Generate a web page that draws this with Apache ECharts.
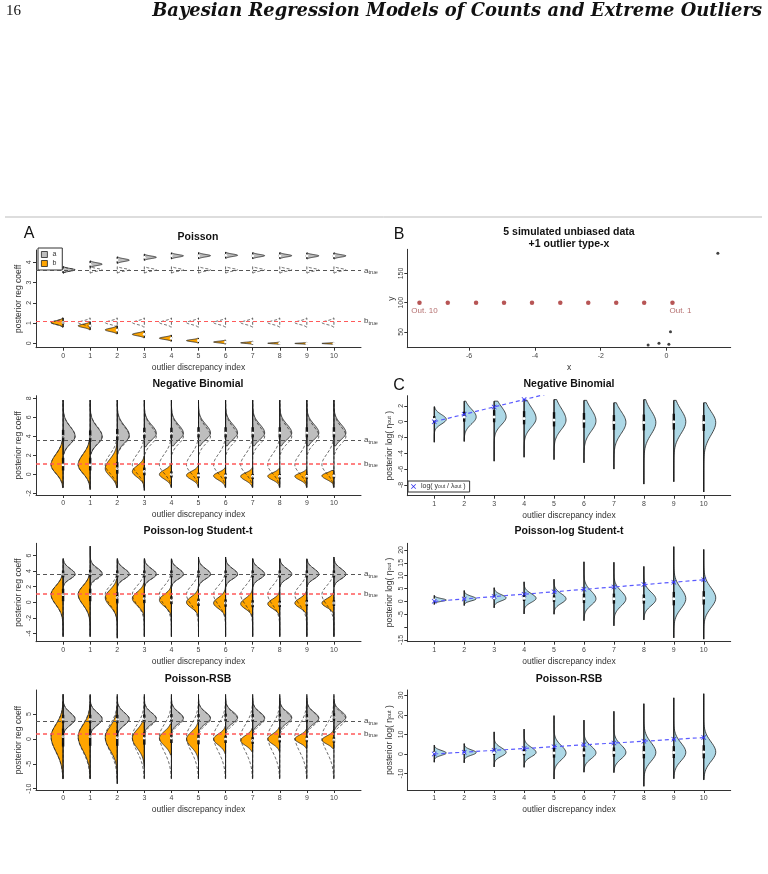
<!DOCTYPE html>
<html>
<head>
<meta charset="utf-8">
<title>Bayesian Regression Models of Counts and Extreme Outliers</title>
<script src="https://cdn.jsdelivr.net/npm/echarts@6/dist/echarts.min.js"></script>
<style>
  body { margin: 0; background: #fff; }
  #main { width: 768px; height: 874px; }
</style>
</head>
<body>
<div id="main"></div>
<script>
// outlier discrepancy index
var idxLeft = [0, 1, 2, 3, 4, 5, 6, 7, 8, 9, 10];
var idxRight = [1, 2, 3, 4, 5, 6, 7, 8, 9, 10];
var aTrue = 3.6, bTrue = 1.1;

// each row: [mode, sd below, sd above, min, max] of a posterior
var poisA = [[3.63,0.065,0.065,3.47,3.79],[3.91,0.065,0.065,3.75,4.07],[4.11,0.065,0.065,3.95,4.27],[4.25,0.06,0.06,4.10,4.40],
  [4.32,0.06,0.06,4.17,4.47],[4.33,0.06,0.06,4.18,4.48],[4.35,0.06,0.06,4.20,4.50],[4.33,0.06,0.06,4.18,4.48],
  [4.33,0.06,0.06,4.18,4.48],[4.32,0.06,0.06,4.17,4.47],[4.32,0.06,0.06,4.17,4.47]];
var poisB = [[1.02,0.09,0.09,0.80,1.25],[0.86,0.08,0.08,0.66,1.06],[0.66,0.08,0.08,0.46,0.86],[0.44,0.07,0.07,0.27,0.61],
  [0.25,0.06,0.06,0.10,0.40],[0.13,0.05,0.05,0.01,0.25],[0.06,0.04,0.04,-0.04,0.16],[0.02,0.03,0.03,-0.06,0.10],
  [0.00,0.025,0.025,-0.06,0.06],[-0.01,0.02,0.02,-0.06,0.04],[-0.01,0.02,0.02,-0.06,0.04]];

var nbA = [[4.0,0.8,1.0,2.1,7.8],[3.95,0.8,1.0,2.1,7.8],[4.1,0.8,1.0,2.4,7.8],[4.3,0.7,0.9,2.9,7.8],
  [4.3,0.7,0.9,3.0,7.8],[4.35,0.7,0.9,3.0,7.8],[4.35,0.7,0.9,3.0,7.8],[4.35,0.7,0.9,3.0,7.8],
  [4.35,0.7,0.9,3.0,7.8],[4.35,0.7,0.9,3.0,7.8],[4.35,0.7,0.9,3.0,7.8]];
var nbB = [[1.0,0.9,1.1,-1.4,4.1],[1.0,0.9,1.1,-1.6,4.1],[0.6,0.8,1.0,-1.4,3.5],[0.3,0.6,0.6,-1.7,1.9],
  [0.0,0.5,0.45,-1.3,1.1],[-0.1,0.45,0.4,-1.3,0.9],[-0.15,0.45,0.35,-1.3,0.7],[-0.2,0.45,0.35,-1.3,0.7],
  [-0.2,0.4,0.35,-1.3,0.6],[-0.2,0.4,0.3,-1.3,0.5],[-0.15,0.4,0.3,-1.3,0.4]];

var stA = [[3.6,0.6,0.7,2.0,5.6],[3.7,0.6,0.7,2.2,7.2],[3.6,0.6,0.7,2.0,5.6],[3.6,0.6,0.7,2.0,5.6],
  [3.6,0.6,0.7,2.0,5.5],[3.6,0.6,0.7,2.0,5.8],[3.6,0.6,0.7,2.0,5.8],[3.6,0.6,0.7,2.0,5.6],
  [3.6,0.6,0.7,2.0,5.6],[3.6,0.6,0.7,2.0,5.5],[3.6,0.6,0.7,2.0,5.8]];
var stB = [[1.0,1.3,1.1,-4.4,3.8],[1.0,1.3,1.1,-4.4,4.0],[0.6,1.1,1.0,-4.6,3.0],[0.5,0.9,0.8,-4.4,2.4],
  [0.3,0.8,0.7,-4.4,2.2],[0.0,0.7,0.7,-4.4,2.1],[-0.1,0.7,0.7,-4.4,2.1],[-0.2,0.65,0.7,-4.4,2.0],
  [-0.2,0.6,0.6,-4.4,1.6],[-0.1,0.6,0.6,-4.4,1.8],[-0.1,0.55,0.55,-4.4,1.6]];

var rsbA = [[4.0,1.2,1.3,1.2,9.0],[4.0,1.2,1.3,1.2,8.8],[4.0,1.2,1.3,1.3,8.5],[4.1,1.1,1.2,1.5,8.5],
  [4.2,1.1,1.2,1.6,8.3],[4.2,1.1,1.2,1.5,8.5],[4.3,1.1,1.2,1.6,8.3],[4.2,1.1,1.2,1.6,8.3],
  [4.3,1.1,1.2,1.6,8.3],[4.2,1.1,1.2,1.6,8.3],[4.4,1.1,1.2,1.8,8.0]];
var rsbB = [[0.5,3.0,2.4,-8.0,7.5],[0.5,2.8,2.3,-8.0,7.0],[0.3,2.5,2.2,-9.0,6.5],[0.2,2.0,1.7,-5.5,5.0],
  [0.2,1.5,1.3,-3.2,3.0],[0.0,1.6,1.4,-4.5,3.5],[0.0,1.2,1.0,-3.0,2.6],[-0.3,1.0,1.0,-2.5,2.2],
  [0.0,1.0,1.0,-2.5,2.4],[0.0,0.8,0.8,-1.9,2.0],[-0.2,0.8,0.8,-1.9,2.0]];

// posterior log(eta_out), indices 1..10
var nbEta = [[0.3,0.6,0.6,-2.6,1.9],[0.6,0.9,1.0,-2.5,2.6],[0.6,1.0,1.3,-5.0,2.6],[0.4,1.1,1.4,-4.5,2.7],
  [0.2,1.2,1.5,-4.8,2.8],[0.1,1.3,1.5,-5.2,2.7],[-0.1,1.4,1.4,-6.0,2.4],[-0.1,1.5,1.5,-7.9,2.8],
  [0.0,1.5,1.5,-7.6,2.7],[-0.1,1.6,1.4,-8.9,2.4]];
var stEta = [[0.5,0.5,0.6,-1.2,2.3],[1.0,0.8,1.0,-1.6,4.2],[1.3,1.1,1.3,-2.5,5.3],[1.2,1.6,1.8,-4.9,7.6],
  [1.0,1.8,2.0,-5.0,8.6],[1.0,2.5,3.0,-7.5,15.4],[1.0,2.8,3.0,-9.5,15.2],[0.8,2.5,2.8,-7.2,13.6],
  [1.0,3.8,4.0,-14.2,21.3],[1.3,3.8,4.0,-14.7,20.2]];
var rsbEta = [[0.5,1.2,1.3,-4.2,4.5],[0.7,1.3,1.4,-4.5,5.3],[0.8,2.0,2.4,-6.6,11.3],[0.8,2.2,2.6,-6.8,12.7],
  [0.5,3.5,3.8,-12.8,19.6],[0.6,3.0,3.4,-9.3,17.3],[0.8,3.3,3.8,-9.5,21.8],[0.8,4.5,5.0,-16.5,25.7],
  [0.8,4.3,4.8,-12.6,28.7],[1.0,4.8,5.2,-13.2,30.8]];
var logRatio = [0, 0.93, 1.87, 2.8, 3.73, 4.67, 5.6, 6.53, 7.47, 8.4];

// panel B
var outX = [-7.51, -6.65, -5.79, -4.94, -4.09, -3.23, -2.38, -1.53, -0.68, 0.18];
var outY = [100, 100, 100, 100, 100, 100, 100, 100, 100, 100];
var outLab = ['Out. 10', '', '', '', '', '', '', '', '', 'Out. 1'];
var obsX = [-0.56, -0.23, 0.07, 0.12, 1.56];
var obsY = [27.7, 30.6, 28.9, 50.4, 184.4];

var FONT = '"Liberation Sans", Arial, sans-serif';
var W = 12;
var GREY = '#bebebe', ORANGE = '#ffa500', BLUE = '#add8e6';

function rowsAt(xs, rows) { return rows.map(function (r, i) { return [xs[i]].concat(r); }); }
function refRows(xs, rows) { return xs.map(function (x) { return [x].concat(rows[0]); }); }

// half violin drawn from the summary of each posterior
function violin(g, name, data, side, fill, dashed) {
    return {
        type: 'custom', name: name, xAxisIndex: g, yAxisIndex: g, data: data, silent: true,
        encode: {x: 0, y: 1}, itemStyle: {color: fill || '#000'},
        renderItem: function (params, api) {
            var x = api.value(0), m = api.value(1), sl = api.value(2), su = api.value(3);
            var lo = api.value(4), hi = api.value(5);
            var pts = [api.coord([x, lo])];
            for (var k = 0; k <= 50; k++) {
                var t = lo + (hi - lo) * k / 50;
                var z = (t - m) / (t < m ? sl : su);
                var p = api.coord([x, t]);
                pts.push([p[0] + side * W * Math.exp(-0.5 * z * z), p[1]]);
            }
            pts.push(api.coord([x, hi]));
            return {
                type: 'polygon', shape: {points: pts},
                style: {fill: dashed ? 'none' : fill, stroke: '#222',
                    lineWidth: dashed ? 0.7 : 0.8, lineDash: dashed ? [3, 2] : null}
            };
        }
    };
}

// boxplot inside: whisker, interquartile bar, white median
function boxes(g, data, whisker) {
    return {
        type: 'custom', xAxisIndex: g, yAxisIndex: g, data: data, silent: true, encode: {x: 0, y: 1},
        renderItem: function (params, api) {
            var x = api.value(0), m = api.value(1), sl = api.value(2), su = api.value(3);
            var kids = [];
            if (whisker) {
                var a = api.coord([x, api.value(4)]), b = api.coord([x, api.value(5)]);
                kids.push({type: 'line', shape: {x1: a[0], y1: a[1], x2: b[0], y2: b[1]}, style: {stroke: '#111', lineWidth: 1}});
            }
            var q1 = api.coord([x, m - 0.67 * sl]), q3 = api.coord([x, m + 0.67 * su]), md = api.coord([x, m]);
            kids.push({type: 'line', shape: {x1: q1[0], y1: q1[1], x2: q3[0], y2: q3[1]}, style: {stroke: '#111', lineWidth: 2.4}});
            kids.push({type: 'circle', shape: {cx: md[0], cy: md[1], r: 1.5}, style: {fill: '#fff'}});
            return {type: 'group', children: kids};
        }
    };
}

function whiskers(g, xs, a, b) {
    var data = xs.map(function (x, i) {
        return [x, Math.min(a[i][3], b[i][3], b[0][3]), Math.max(a[i][4], b[i][4], a[0][4])];
    });
    return {
        type: 'custom', xAxisIndex: g, yAxisIndex: g, data: data, silent: true, encode: {x: 0, y: 1},
        renderItem: function (params, api) {
            var p = api.coord([api.value(0), api.value(1)]), q = api.coord([api.value(0), api.value(2)]);
            return {type: 'line', shape: {x1: p[0], y1: p[1], x2: q[0], y2: q[1]}, style: {stroke: '#111', lineWidth: 1}};
        }
    };
}

function trueLines(g, redWidth) {
    var rich = {v: {fontSize: 8, color: '#444'}, s: {fontSize: 5.5, color: '#444', padding: [4, 0, 0, 0]}};
    return {
        type: 'line', xAxisIndex: g, yAxisIndex: g, data: [], silent: true, z: 5,
        markLine: {
            symbol: ['none', 'none'], silent: true, animation: false,
            label: {show: true, position: 'end', distance: 3, rich: rich},
            data: [
                {yAxis: aTrue, lineStyle: {color: '#555', type: [4, 3], width: 1.1}, label: {formatter: '{v|a}{s|true}'}},
                {yAxis: bTrue, lineStyle: {color: '#ff5a5a', type: [4, 3], width: redWidth}, label: {formatter: '{v|b}{s|true}'}}
            ]
        }
    };
}

function leftPanel(g, a, b, redWidth, union) {
    var list = [
        violin(g, 'a', rowsAt(idxLeft, a), 1, GREY, false),
        violin(g, 'b', rowsAt(idxLeft, b), -1, ORANGE, false)
    ];
    if (union) list.push(whiskers(g, idxLeft, a, b));
    list.push(boxes(g, rowsAt(idxLeft, a), !union), boxes(g, rowsAt(idxLeft, b), !union));
    list.push(violin(g, 'ref', refRows(idxLeft, a), 1, null, true),
        violin(g, 'ref', refRows(idxLeft, b), -1, null, true),
        trueLines(g, redWidth));
    return list;
}

var XMARK = 'path://M0,1L1,0L5,4L9,0L10,1L6,5L10,9L9,10L5,6L1,10L0,9L4,5Z';

function rightPanel(g, rows) {
    return [
        violin(g, 'eta', rowsAt(idxRight, rows), 1, BLUE, false),
        boxes(g, rowsAt(idxRight, rows), true),
        {
            type: 'line', name: 'log', xAxisIndex: g, yAxisIndex: g, z: 6,
            data: idxRight.map(function (x, i) { return [x, logRatio[i]]; }),
            symbol: XMARK, symbolSize: 5, clip: true,
            itemStyle: {color: '#2a2aee'},
            lineStyle: {color: '#5a5aff', type: [4, 3], width: 1.2}
        }
    ];
}

function xAx(g, min, max, ticks, name) {
    return {
        type: 'value', gridIndex: g, min: min, max: max,
        axisLine: {onZero: false, lineStyle: {color: '#333', width: 1}},
        splitLine: {show: false},
        axisTick: {customValues: ticks, length: 3, lineStyle: {color: '#333'}},
        axisLabel: {customValues: ticks, fontSize: 7, color: '#444', margin: 5},
        name: name, nameLocation: 'middle', nameGap: 15,
        nameTextStyle: {fontSize: 8.5, color: '#333'}
    };
}
function yAx(g, min, max, ticks, labels, name, rich) {
    return {
        type: 'value', gridIndex: g, min: min, max: max,
        axisLine: {show: true, onZero: false, lineStyle: {color: '#333', width: 1}},
        splitLine: {show: false},
        axisTick: {show: true, customValues: ticks, length: 3, lineStyle: {color: '#333'}},
        axisLabel: {customValues: labels || ticks, fontSize: 7, color: '#444', margin: 3, rotate: 90},
        name: name, nameLocation: 'middle', nameGap: 13,
        nameTextStyle: {fontSize: 8.5, color: '#333', rich: rich}
    };
}

var etaName = '{t|posterior log( η}{s|out}{t| )}';
var etaRich = {t: {fontSize: 8.5, color: '#333'}, s: {fontSize: 5.5, color: '#333'}};
var xName = 'outlier discrepancy index';

var grids = [
    {left: 36, top: 250, width: 325, height: 97.7},       // 0 Poisson
    {left: 36, top: 395.7, width: 325, height: 99.3},     // 1 NB
    {left: 36, top: 543.3, width: 325, height: 98.4},     // 2 Student-t
    {left: 36, top: 690, width: 325, height: 100},        // 3 RSB
    {left: 407.3, top: 249.3, width: 323.4, height: 98.4},// 4 B
    {left: 407.3, top: 395.7, width: 323.4, height: 100}, // 5 C NB
    {left: 407.3, top: 543.3, width: 323.4, height: 98.4},// 6 C Student-t
    {left: 407.3, top: 690, width: 323.4, height: 100}    // 7 C RSB
];

var xAxes = [
    xAx(0, -1, 11, idxLeft, xName), xAx(1, -1, 11, idxLeft, xName),
    xAx(2, -1, 11, idxLeft, xName), xAx(3, -1, 11, idxLeft, xName),
    xAx(4, -7.88, 1.95, [-6, -4, -2, 0], 'x'),
    xAx(5, 0.1, 10.9, idxRight, xName), xAx(6, 0.1, 10.9, idxRight, xName), xAx(7, 0.1, 10.9, idxRight, xName)
];
var yAxes = [
    yAx(0, -0.22, 4.61, [0, 1, 2, 3, 4], null, 'posterior reg coeff'),
    yAx(1, -2.18, 8.27, [-2, 0, 2, 4, 6, 8], null, 'posterior reg coeff'),
    yAx(2, -5.05, 7.56, [-4, -2, 0, 2, 4, 6], null, 'posterior reg coeff'),
    yAx(3, -10.26, 9.86, [-10, -5, 0, 5], null, 'posterior reg coeff'),
    yAx(4, 23.1, 191.3, [50, 100, 150], null, 'y'),
    yAx(5, -9.37, 3.29, [-8, -6, -4, -2, 0, 2], null, etaName, etaRich),
    yAx(6, -15.7, 22.6, [-15, -10, -5, 0, 5, 10, 15, 20], [-15, -5, 0, 5, 10, 15, 20], etaName, etaRich),
    yAx(7, -18.4, 32.7, [-10, 0, 10, 20, 30], null, etaName, etaRich)
];
yAxes[4].nameGap = 11;

var series = [].concat(
    leftPanel(0, poisA, poisB, 1, false),
    leftPanel(1, nbA, nbB, 1.6, true),
    leftPanel(2, stA, stB, 1.6, true),
    leftPanel(3, rsbA, rsbB, 1.6, true),
    rightPanel(5, nbEta), rightPanel(6, stEta), rightPanel(7, rsbEta)
);

series.push({
    type: 'scatter', xAxisIndex: 4, yAxisIndex: 4, symbol: 'circle', symbolSize: 3,
    itemStyle: {color: '#111'},
    data: obsX.map(function (x, i) { return [x, obsY[i]]; })
}, {
    type: 'scatter', xAxisIndex: 4, yAxisIndex: 4, symbol: 'circle', symbolSize: 4.5,
    itemStyle: {color: '#a52a2a'},
    data: outX.map(function (x, i) {
        return {
            value: [x, outY[i]],
            label: {show: outLab[i] !== '', formatter: outLab[i], position: 'bottom', distance: 2,
                offset: [i === 0 ? 5 : 8, 0], fontSize: 8, color: '#a04848'}
        };
    })
});

function txt(x, y, s, font, align) {
    return {type: 'text', x: x, y: y, silent: true,
        style: {text: s, font: font, fill: '#111', align: align || 'center', verticalAlign: 'middle'}};
}
var tFont = 'bold 10.5px ' + FONT;

var option = {
    animation: false,
    backgroundColor: '#fff',
    textStyle: {fontFamily: FONT},
    grid: grids,
    xAxis: xAxes,
    yAxis: yAxes,
    legend: [{
        data: [{name: 'a', icon: 'rect', itemStyle: {color: GREY, borderColor: '#222', borderWidth: 0.8}},
               {name: 'b', icon: 'rect', itemStyle: {color: ORANGE, borderColor: '#222', borderWidth: 0.8}}],
        orient: 'vertical', left: 38, top: 248, itemWidth: 6, itemHeight: 6, itemGap: 2,
        padding: [3, 6, 3, 3], borderColor: '#333', borderWidth: 1, backgroundColor: '#fff',
        selectedMode: false, textStyle: {fontSize: 7, color: '#333'}
    }, {
        data: [{name: 'log', icon: XMARK, itemStyle: {color: '#2a2aee'}}],
        left: 408, top: 481, itemWidth: 5, itemHeight: 5, padding: [2, 4, 2, 3],
        borderColor: '#333', borderWidth: 1, backgroundColor: '#fff', selectedMode: false,
        formatter: function () { return '{t|log( y}{s|out}{t| / λ}{s|out}{t| )}'; },
        textStyle: {rich: {t: {fontSize: 7, color: '#333'}, s: {fontSize: 5, color: '#333'}}}
    }],
    graphic: [
        txt(6, 11, '16', '15px "Liberation Serif", serif', 'left'),
        txt(762, 11, 'Bayesian Regression Models of Counts and Extreme Outliers',
            'italic bold 17.9px "DejaVu Serif", serif', 'right'),
        {type: 'line', silent: true, shape: {x1: 5, y1: 217, x2: 762, y2: 217}, style: {stroke: '#bbb', lineWidth: 1}},
        txt(29, 234, 'A', '16px ' + FONT), txt(399, 235, 'B', '16px ' + FONT), txt(399, 386, 'C', '16px ' + FONT),
        txt(198, 237, 'Poisson', tFont),
        txt(569, 232, '5 simulated unbiased data', tFont),
        txt(569, 244, '+1 outlier type-x', tFont),
        txt(198, 384, 'Negative Binomial', tFont), txt(569, 384, 'Negative Binomial', tFont),
        txt(198, 531, 'Poisson-log Student-t', tFont), txt(569, 531, 'Poisson-log Student-t', tFont),
        txt(198, 679, 'Poisson-RSB', tFont), txt(569, 679, 'Poisson-RSB', tFont)
    ],
    series: series
};

var chart = echarts.init(document.getElementById('main'));
chart.setOption(option);
</script>
</body>
</html>
